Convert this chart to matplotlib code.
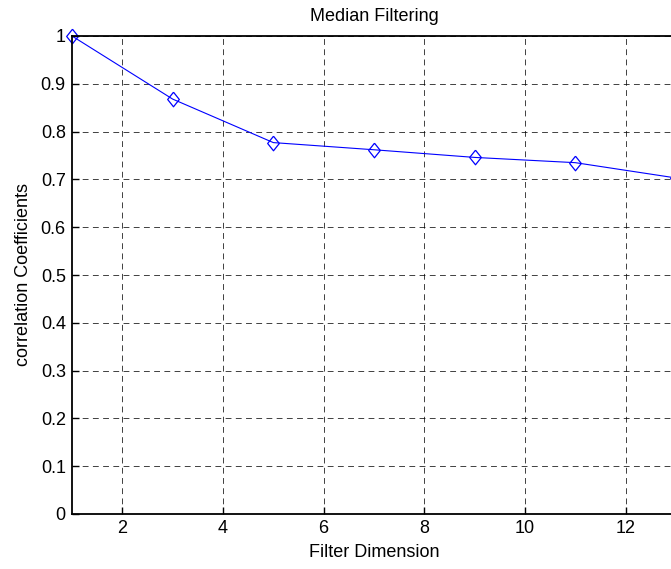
import matplotlib
matplotlib.use("Agg")
import matplotlib.pyplot as plt

# filter size vs correlation coefficient after median filtering
filter_dims = [1, 3, 5, 7, 9, 11, 13]
corr_coeffs = [1.0, 0.868, 0.777, 0.762, 0.746, 0.735, 0.703]
x_ticks = [2, 4, 6, 8, 10, 12]
y_ticks = [0, 0.1, 0.2, 0.3, 0.4, 0.5, 0.6, 0.7, 0.8, 0.9, 1]
y_labels = ["0", "0.1", "0.2", "0.3", "0.4", "0.5", "0.6", "0.7", "0.8", "0.9", "1"]

plt.rcParams['font.family'] = ['Liberation Sans', 'DejaVu Sans']

W, H = 671, 569
fig = plt.figure(figsize=(W / 100, H / 100), dpi=100)
# axes run a little past the right edge of the figure
ax = fig.add_axes([72 / W, 55 / H, 604 / W, 478 / H])

diamond = [(0, 1), (0.8, 0), (0, -1), (-0.8, 0), (0, 1)]
ax.plot(filter_dims, corr_coeffs, color='#0000ff', lw=0.8,
        marker=diamond, markersize=10.5, markerfacecolor='none',
        markeredgecolor='#0000ff', markeredgewidth=0.9, clip_on=False)

ax.set_xlim(1, 13)
ax.set_ylim(0, 1)
ax.set_xticks(x_ticks)
ax.set_yticks(y_ticks)
ax.set_yticklabels(y_labels)
ax.tick_params(direction='in', length=5, width=1, labelsize=13, pad=4.5)
ax.grid(True, color='black', linestyle=(0, (6, 4.5)), lw=0.7, alpha=0.75)
for s in ax.spines.values():
    s.set_linewidth(1.3)

ax.set_title("Median Filtering", fontsize=13, pad=11)
ax.set_xlabel("Filter Dimension", fontsize=13, labelpad=5)
ax.set_ylabel("correlation Coefficients", fontsize=13, labelpad=6)

fig.savefig("out.png", dpi=100)
